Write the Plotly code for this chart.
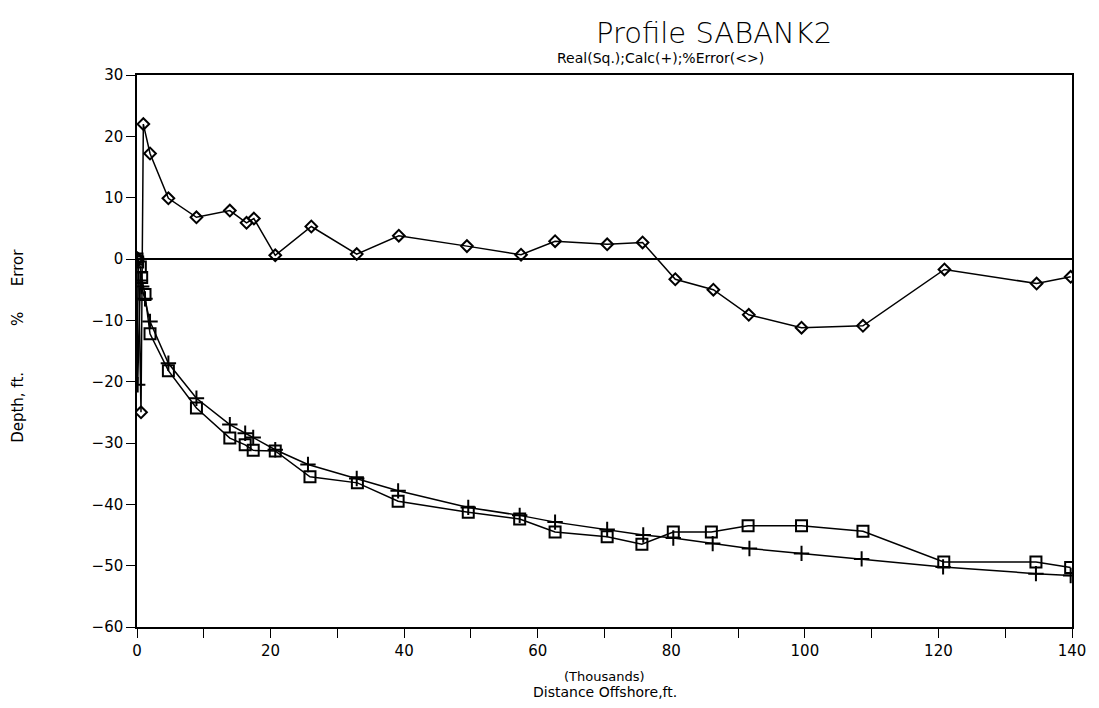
import plotly.graph_objects as go

# Distance offshore (thousands of ft)
real_x = [0, 0.1, 0.5, 0.7, 1.2, 1.95, 4.7, 8.9, 13.9, 16.2, 17.4, 20.7, 25.9, 33.0, 39.1, 49.6,
          57.3, 62.6, 70.4, 75.6, 80.3, 86.0, 91.5, 99.5, 108.7, 120.8, 134.6, 139.8]
real_y = [0, -0.5, -1.3, -3.0, -5.8, -12.2, -18.2, -24.3, -29.2, -30.3, -31.2, -31.3, -35.5, -36.5, -39.5, -41.3,
          -42.4, -44.5, -45.3, -46.5, -44.5, -44.5, -43.5, -43.5, -44.4, -49.4, -49.4, -50.3]

calc_x = [0, 0.1, 0.5, 0.7, 1.2, 1.95, 4.7, 8.9, 13.9, 16.2, 17.4, 20.7, 25.6, 32.9, 39.1, 49.6,
          57.3, 62.6, 70.4, 75.8, 80.3, 86.2, 91.7, 99.5, 108.5, 120.7, 134.6, 139.8]
calc_y = [0, -20.5, -3.5, -4.5, -6.5, -10.2, -17.0, -22.7, -27.0, -28.4, -29.1, -31.1, -33.5, -35.8, -37.8, -40.5,
          -41.8, -42.9, -44.1, -45.0, -45.5, -46.4, -47.2, -48.0, -48.9, -50.2, -51.3, -51.6]

err_x = [0, 0.2, 0.6, 0.95, 1.95, 4.7, 8.9, 13.9, 16.4, 17.5, 20.7, 26.1, 32.9, 39.2, 49.4, 57.5,
         62.6, 70.4, 75.7, 80.6, 86.3, 91.6, 99.5, 108.7, 120.9, 134.7, 139.8]
err_y = [0, 0, -25.0, 22.0, 17.2, 9.9, 6.8, 7.9, 5.9, 6.6, 0.6, 5.3, 0.8, 3.8, 2.1, 0.7,
         2.9, 2.4, 2.7, -3.3, -5.0, -9.1, -11.2, -10.9, -1.7, -4.0, -2.9]

x_ticks = [0, 20, 40, 60, 80, 100, 120, 140]
y_ticks = [30, 20, 10, 0, -10, -20, -30, -40, -50, -60]

FONT = "DejaVu Sans"
fig = go.Figure()
fig.add_trace(go.Scatter(x=real_x, y=real_y, mode="lines+markers",
                         line=dict(color="black", width=1.5),
                         marker=dict(symbol="square-open", size=11, color="black", line=dict(width=2))))
fig.add_trace(go.Scatter(x=calc_x, y=calc_y, mode="lines+markers",
                         line=dict(color="black", width=1.5),
                         marker=dict(symbol="cross-thin-open", size=11, color="black",
                                     line=dict(width=2, color="black"))))
fig.add_trace(go.Scatter(x=err_x, y=err_y, mode="lines+markers",
                         line=dict(color="black", width=1.5),
                         marker=dict(symbol="diamond-open", size=9, color="black", line=dict(width=2))))

def ann(text, x, y, xs=0, ys=0, size=13, angle=0, weight=None):
    f = dict(size=size, family=FONT, color="black")
    if weight:
        f["weight"] = weight
    return dict(text=text, xref="paper", yref="paper", x=x, y=y, xshift=xs, yshift=ys,
                xanchor="center", yanchor="middle", showarrow=False, textangle=angle, font=f)

fig.update_layout(
    width=1091, height=700,
    margin=dict(l=129, r=27, t=67, b=81),
    paper_bgcolor="white", plot_bgcolor="white",
    showlegend=False,
    font=dict(family=FONT, color="black", size=14),
    annotations=[
        ann("Profile SABANK2", 0.617, 1.0, ys=42, size=29, weight=200),
        ann("Real(Sq.);Calc(+);%Error(<>)", 0.56, 1.0, ys=17, size=14),
        ann("(Thousands)", 0.5, 0.0, ys=-49, size=13),
        ann("Distance Offshore,ft.", 0.5, 0.0, ys=-65, size=14),
        ann("Depth, ft.", 0.0, 0.397, xs=-119, size=15, angle=-90),
        ann("%", 0.0, 0.558, xs=-119, size=15, angle=-90),
        ann("Error", 0.0, 0.650, xs=-119, size=15, angle=-90),
    ],
    xaxis=dict(range=[0, 140], tickmode="array", tickvals=list(range(0, 141, 10)),
               ticktext=[str(v) if v in x_ticks else "" for v in range(0, 141, 10)],
               ticks="outside", ticklen=9, tickcolor="black", showgrid=False, zeroline=False,
               showline=True, linecolor="black", linewidth=1.5, mirror=True,
               tickfont=dict(size=15), automargin=False),
    yaxis=dict(range=[-60, 30], tickmode="array", tickvals=y_ticks,
               ticktext=[str(v).replace("-", "\u2212") for v in y_ticks],
               ticks="outside", ticklen=9, tickcolor="black", showgrid=False,
               zeroline=True, zerolinecolor="black", zerolinewidth=1.5,
               showline=True, linecolor="black", linewidth=1.5, mirror=True,
               tickfont=dict(size=15), automargin=False),
)

fig.write_html("out.html")
